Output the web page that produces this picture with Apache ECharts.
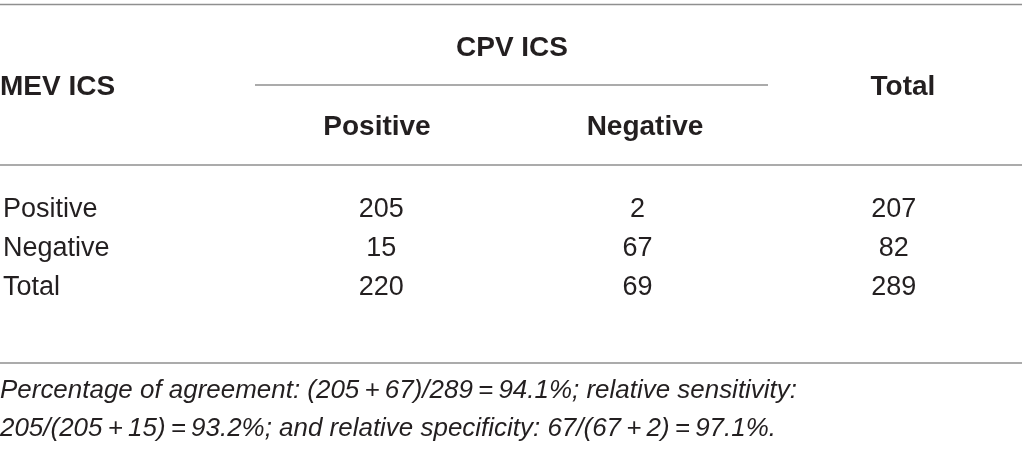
<!DOCTYPE html>
<html>
<head>
<meta charset="utf-8">
<script src="https://cdn.jsdelivr.net/npm/echarts@6/dist/echarts.min.js"></script>
<style>
  html, body { margin: 0; padding: 0; background: #fff; }
  #myChart { width: 1022px; height: 453px; }
</style>
</head>
<body>
<div id="myChart"></div>
<script>
// table contents
const rowLabels = ["Positive", "Negative", "Total"];
const colLabels = ["Positive", "Negative", "Total"];
const positiveCol = [205, 15, 220];
const negativeCol = [2, 67, 69];
const totalCol = [207, 82, 289];
const groupTitle = "CPV ICS";
const rowTitle = "MEV ICS";
const footnote = [
  "Percentage of agreement: (205\u2009+\u200967)/289\u2009=\u200994.1%; relative sensitivity:",
  "205/(205\u2009+\u200915)\u2009=\u200993.2%; and relative specificity: 67/(67\u2009+\u20092)\u2009=\u200997.1%."
];

const ink = "#231f20";
const rule = "#8f8f8f";
const bodyFont = "Liberation Sans";
const noteFont = "italic 25px 'Liberation Sans'";

const cells = [];
[positiveCol, negativeCol, totalCol].forEach((col, ci) => {
  col.forEach((v, ri) => cells.push([colLabels[ci], rowLabels[ri], v]));
});

// footnote is set in a condensed face: squeeze the regular italic to fit
const ctx = document.createElement("canvas").getContext("2d");
ctx.font = noteFont;
const noteScale = 797 / ctx.measureText(footnote[0]).width;

const myChart = echarts.init(document.getElementById("myChart"));

const hline = (x1, x2, y) => ({
  type: "line",
  shape: { x1: x1, y1: y, x2: x2, y2: y },
  style: { stroke: rule, lineWidth: 1.5 }
});
const head = (text, x, y, align) => ({
  type: "text",
  x: x, y: y,
  style: {
    text: text, fill: ink, font: "bold 28px '" + bodyFont + "'",
    align: align || "center", verticalAlign: "middle"
  }
});
const note = (text, y) => ({
  type: "text",
  x: 0, y: y, scaleX: noteScale,
  style: { text: text, fill: ink, font: noteFont, verticalAlign: "middle" }
});

const option = {
  animation: false,
  grid: { left: 246, right: -12, top: 190.5, bottom: 145.5 },
  xAxis: {
    type: "category",
    data: colLabels,
    axisLine: { show: false },
    axisTick: { show: false },
    axisLabel: { show: false },
    splitLine: { show: false }
  },
  yAxis: {
    type: "category",
    data: rowLabels,
    inverse: true,
    axisLine: { show: false },
    axisTick: { show: false },
    splitLine: { show: false },
    axisLabel: {
      align: "left",
      margin: 250,
      color: ink,
      fontFamily: bodyFont,
      fontSize: 27
    }
  },
  series: [{
    type: "scatter",
    data: cells,
    symbolSize: 0,
    itemStyle: { opacity: 1 },
    label: {
      show: true,
      position: "inside",
      formatter: p => p.value[2],
      color: ink,
      fontFamily: bodyFont,
      fontSize: 27
    }
  }],
  graphic: [
    hline(0, 1022, 4.5),
    hline(255, 768, 85),
    hline(0, 1022, 165),
    hline(0, 1022, 363),
    head(groupTitle, 512, 48),
    head(rowTitle, 0, 87, "left"),
    head(colLabels[2], 903, 87),
    head(colLabels[0], 377, 127),
    head(colLabels[1], 645, 127),
    note(footnote[0], 391),
    note(footnote[1], 429)
  ]
};

myChart.setOption(option);
</script>
</body>
</html>
